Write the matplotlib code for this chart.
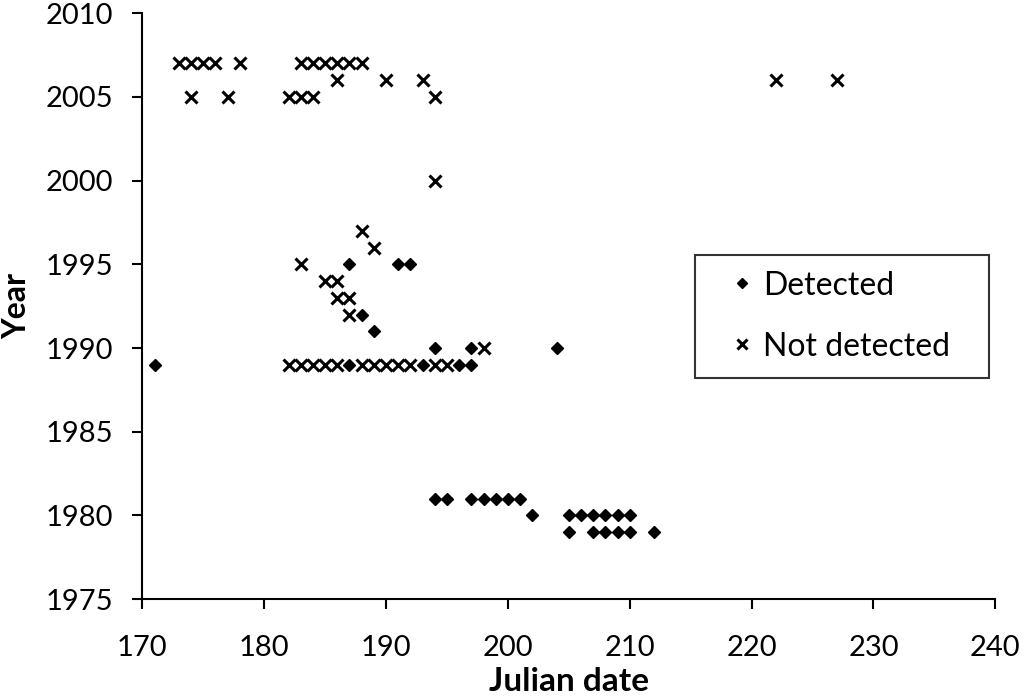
import matplotlib
matplotlib.use("Agg")
import matplotlib.pyplot as plt

plt.rcParams['font.family'] = ['Lato', 'DejaVu Sans']

# Detected (diamond) points
det_x = [171, 187, 193, 196, 197,
         194, 197, 204,
         189, 188, 187, 191, 192,
         194, 195, 197, 198, 199, 200, 201,
         202, 205, 206, 207, 208, 209, 210,
         205, 207, 208, 209, 210, 212]
det_y = [1989, 1989, 1989, 1989, 1989,
         1990, 1990, 1990,
         1991, 1992, 1995, 1995, 1995,
         1981, 1981, 1981, 1981, 1981, 1981, 1981,
         1980, 1980, 1980, 1980, 1980, 1980, 1980,
         1979, 1979, 1979, 1979, 1979, 1979]

# Not detected (x) points
nd_x = [173, 174, 175, 176, 178, 183, 184, 185, 186, 187, 188,
        186, 190, 193, 222, 227,
        174, 177, 182, 183, 184, 194,
        194, 188, 189, 183, 185, 186, 186, 187, 187, 198,
        182, 183, 184, 185, 186, 188, 189, 190, 191, 192, 194, 195]
nd_y = [2007, 2007, 2007, 2007, 2007, 2007, 2007, 2007, 2007, 2007, 2007,
        2006, 2006, 2006, 2006, 2006,
        2005, 2005, 2005, 2005, 2005, 2005,
        2000, 1997, 1996, 1995, 1994, 1994, 1993, 1993, 1992, 1990,
        1989, 1989, 1989, 1989, 1989, 1989, 1989, 1989, 1989, 1989, 1989, 1989]

x_ticks = [170, 180, 190, 200, 210, 220, 230, 240]
y_ticks = [1975, 1980, 1985, 1990, 1995, 2000, 2005, 2010]

fig = plt.figure(figsize=(10.24, 6.99), dpi=100)
ax = fig.add_axes([0.139, 0.143, 0.833, 0.838])

ax.plot(det_x, det_y, linestyle='none', marker='D', markersize=6.3,
        color='black', label='Detected')
ax.plot(nd_x, nd_y, linestyle='none', marker='x', markersize=8.3,
        markeredgewidth=2.2, color='black', label='Not detected')

ax.set_xlim(170, 240)
ax.set_ylim(1975, 2010)
ax.set_xticks(x_ticks)
ax.set_yticks(y_ticks)
ax.tick_params(axis='both', direction='out', length=7, width=1.5,
               labelsize=21, color='black')
ax.tick_params(axis='x', pad=19)
ax.tick_params(axis='y', pad=14)
for s in ['top', 'right']:
    ax.spines[s].set_visible(False)
for s in ['left', 'bottom']:
    ax.spines[s].set_linewidth(1.5)

ax.set_xlabel('Julian date', fontsize=24, fontweight='bold', va='bottom')
ax.set_ylabel('Year', fontsize=23, fontweight='bold', va='top')
# place label bottom just inside the figure bottom edge (axes coords)
ax.xaxis.set_label_coords(0.5, (3 - 100) / 586.0)
ax.yaxis.set_label_coords((2 - 142.5) / 853.0, 0.5)

leg = ax.legend(loc='upper left', bbox_to_anchor=(0.648, 0.3, 0.344, 0.288),
                mode='expand', fontsize=23, frameon=True, fancybox=False,
                markerscale=0.8, handlelength=1.94, handletextpad=-0.3,
                borderpad=0.5, labelspacing=0.97, borderaxespad=0)
leg.get_frame().set_edgecolor('black')
leg.get_frame().set_linewidth(1.5)

fig.savefig('out.png', dpi=100)
